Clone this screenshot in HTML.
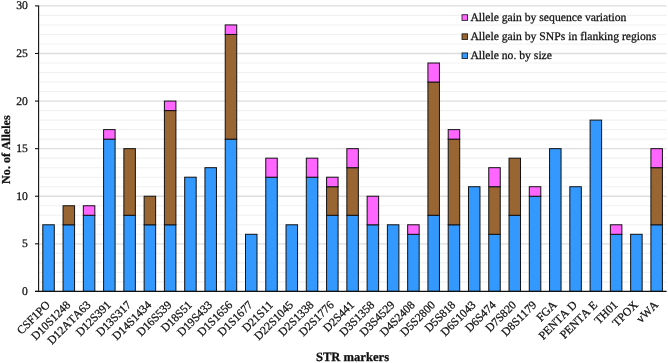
<!DOCTYPE html>
<html><head><meta charset="utf-8"><title>STR markers</title>
<style>html,body{margin:0;padding:0;background:#fff}svg{display:block;will-change:transform}text{font-kerning:none;text-rendering:geometricPrecision;stroke:#111;stroke-width:0.26px}</style></head>
<body>
<svg width="668" height="363" viewBox="0 0 668 363" font-family='"Liberation Serif", "DejaVu Serif", serif'>
<rect width="668" height="363" fill="#fff"/>
<line x1="38.6" x2="666.6" y1="281.88" y2="281.88" stroke="#f1f1f1" stroke-width="1.1"/>
<line x1="38.6" x2="666.6" y1="272.37" y2="272.37" stroke="#f1f1f1" stroke-width="1.1"/>
<line x1="38.6" x2="666.6" y1="262.85" y2="262.85" stroke="#f1f1f1" stroke-width="1.1"/>
<line x1="38.6" x2="666.6" y1="253.33" y2="253.33" stroke="#f1f1f1" stroke-width="1.1"/>
<line x1="38.6" x2="666.6" y1="243.82" y2="243.82" stroke="#dedede" stroke-width="1.3"/>
<line x1="38.6" x2="666.6" y1="234.30" y2="234.30" stroke="#f1f1f1" stroke-width="1.1"/>
<line x1="38.6" x2="666.6" y1="224.78" y2="224.78" stroke="#f1f1f1" stroke-width="1.1"/>
<line x1="38.6" x2="666.6" y1="215.27" y2="215.27" stroke="#f1f1f1" stroke-width="1.1"/>
<line x1="38.6" x2="666.6" y1="205.75" y2="205.75" stroke="#f1f1f1" stroke-width="1.1"/>
<line x1="38.6" x2="666.6" y1="196.23" y2="196.23" stroke="#dedede" stroke-width="1.3"/>
<line x1="38.6" x2="666.6" y1="186.72" y2="186.72" stroke="#f1f1f1" stroke-width="1.1"/>
<line x1="38.6" x2="666.6" y1="177.20" y2="177.20" stroke="#f1f1f1" stroke-width="1.1"/>
<line x1="38.6" x2="666.6" y1="167.68" y2="167.68" stroke="#f1f1f1" stroke-width="1.1"/>
<line x1="38.6" x2="666.6" y1="158.17" y2="158.17" stroke="#f1f1f1" stroke-width="1.1"/>
<line x1="38.6" x2="666.6" y1="148.65" y2="148.65" stroke="#dedede" stroke-width="1.3"/>
<line x1="38.6" x2="666.6" y1="139.13" y2="139.13" stroke="#f1f1f1" stroke-width="1.1"/>
<line x1="38.6" x2="666.6" y1="129.62" y2="129.62" stroke="#f1f1f1" stroke-width="1.1"/>
<line x1="38.6" x2="666.6" y1="120.10" y2="120.10" stroke="#f1f1f1" stroke-width="1.1"/>
<line x1="38.6" x2="666.6" y1="110.58" y2="110.58" stroke="#f1f1f1" stroke-width="1.1"/>
<line x1="38.6" x2="666.6" y1="101.07" y2="101.07" stroke="#dedede" stroke-width="1.3"/>
<line x1="38.6" x2="666.6" y1="91.55" y2="91.55" stroke="#f1f1f1" stroke-width="1.1"/>
<line x1="38.6" x2="666.6" y1="82.03" y2="82.03" stroke="#f1f1f1" stroke-width="1.1"/>
<line x1="38.6" x2="666.6" y1="72.52" y2="72.52" stroke="#f1f1f1" stroke-width="1.1"/>
<line x1="38.6" x2="666.6" y1="63.00" y2="63.00" stroke="#f1f1f1" stroke-width="1.1"/>
<line x1="38.6" x2="666.6" y1="53.48" y2="53.48" stroke="#dedede" stroke-width="1.3"/>
<line x1="38.6" x2="666.6" y1="43.97" y2="43.97" stroke="#f1f1f1" stroke-width="1.1"/>
<line x1="38.6" x2="666.6" y1="34.45" y2="34.45" stroke="#f1f1f1" stroke-width="1.1"/>
<line x1="38.6" x2="666.6" y1="24.93" y2="24.93" stroke="#f1f1f1" stroke-width="1.1"/>
<line x1="38.6" x2="666.6" y1="15.42" y2="15.42" stroke="#f1f1f1" stroke-width="1.1"/>
<line x1="38.6" x2="666.6" y1="5.90" y2="5.90" stroke="#dedede" stroke-width="1.3"/>
<rect x="42.79" y="224.78" width="11.5" height="66.62" fill="#3399ff" stroke="#111" stroke-width="1.0"/>
<rect x="63.06" y="224.78" width="11.5" height="66.62" fill="#3399ff" stroke="#111" stroke-width="1.0"/>
<rect x="63.06" y="205.75" width="11.5" height="19.03" fill="#996633" stroke="#111" stroke-width="1.0"/>
<rect x="83.33" y="215.27" width="11.5" height="76.13" fill="#3399ff" stroke="#111" stroke-width="1.0"/>
<rect x="83.33" y="205.75" width="11.5" height="9.52" fill="#ff66ff" stroke="#111" stroke-width="1.0"/>
<rect x="103.60" y="139.13" width="11.5" height="152.27" fill="#3399ff" stroke="#111" stroke-width="1.0"/>
<rect x="103.60" y="129.62" width="11.5" height="9.52" fill="#ff66ff" stroke="#111" stroke-width="1.0"/>
<rect x="123.87" y="215.27" width="11.5" height="76.13" fill="#3399ff" stroke="#111" stroke-width="1.0"/>
<rect x="123.87" y="148.65" width="11.5" height="66.62" fill="#996633" stroke="#111" stroke-width="1.0"/>
<rect x="144.14" y="224.78" width="11.5" height="66.62" fill="#3399ff" stroke="#111" stroke-width="1.0"/>
<rect x="144.14" y="196.23" width="11.5" height="28.55" fill="#996633" stroke="#111" stroke-width="1.0"/>
<rect x="164.41" y="224.78" width="11.5" height="66.62" fill="#3399ff" stroke="#111" stroke-width="1.0"/>
<rect x="164.41" y="110.58" width="11.5" height="114.20" fill="#996633" stroke="#111" stroke-width="1.0"/>
<rect x="164.41" y="101.07" width="11.5" height="9.52" fill="#ff66ff" stroke="#111" stroke-width="1.0"/>
<rect x="184.68" y="177.20" width="11.5" height="114.20" fill="#3399ff" stroke="#111" stroke-width="1.0"/>
<rect x="204.95" y="167.68" width="11.5" height="123.72" fill="#3399ff" stroke="#111" stroke-width="1.0"/>
<rect x="225.22" y="139.13" width="11.5" height="152.27" fill="#3399ff" stroke="#111" stroke-width="1.0"/>
<rect x="225.22" y="34.45" width="11.5" height="104.68" fill="#996633" stroke="#111" stroke-width="1.0"/>
<rect x="225.22" y="24.93" width="11.5" height="9.52" fill="#ff66ff" stroke="#111" stroke-width="1.0"/>
<rect x="245.50" y="234.30" width="11.5" height="57.10" fill="#3399ff" stroke="#111" stroke-width="1.0"/>
<rect x="265.77" y="177.20" width="11.5" height="114.20" fill="#3399ff" stroke="#111" stroke-width="1.0"/>
<rect x="265.77" y="158.17" width="11.5" height="19.03" fill="#ff66ff" stroke="#111" stroke-width="1.0"/>
<rect x="286.04" y="224.78" width="11.5" height="66.62" fill="#3399ff" stroke="#111" stroke-width="1.0"/>
<rect x="306.31" y="177.20" width="11.5" height="114.20" fill="#3399ff" stroke="#111" stroke-width="1.0"/>
<rect x="306.31" y="158.17" width="11.5" height="19.03" fill="#ff66ff" stroke="#111" stroke-width="1.0"/>
<rect x="326.58" y="215.27" width="11.5" height="76.13" fill="#3399ff" stroke="#111" stroke-width="1.0"/>
<rect x="326.58" y="186.72" width="11.5" height="28.55" fill="#996633" stroke="#111" stroke-width="1.0"/>
<rect x="326.58" y="177.20" width="11.5" height="9.52" fill="#ff66ff" stroke="#111" stroke-width="1.0"/>
<rect x="346.85" y="215.27" width="11.5" height="76.13" fill="#3399ff" stroke="#111" stroke-width="1.0"/>
<rect x="346.85" y="167.68" width="11.5" height="47.58" fill="#996633" stroke="#111" stroke-width="1.0"/>
<rect x="346.85" y="148.65" width="11.5" height="19.03" fill="#ff66ff" stroke="#111" stroke-width="1.0"/>
<rect x="367.12" y="224.78" width="11.5" height="66.62" fill="#3399ff" stroke="#111" stroke-width="1.0"/>
<rect x="367.12" y="196.23" width="11.5" height="28.55" fill="#ff66ff" stroke="#111" stroke-width="1.0"/>
<rect x="387.39" y="224.78" width="11.5" height="66.62" fill="#3399ff" stroke="#111" stroke-width="1.0"/>
<rect x="407.66" y="234.30" width="11.5" height="57.10" fill="#3399ff" stroke="#111" stroke-width="1.0"/>
<rect x="407.66" y="224.78" width="11.5" height="9.52" fill="#ff66ff" stroke="#111" stroke-width="1.0"/>
<rect x="427.93" y="215.27" width="11.5" height="76.13" fill="#3399ff" stroke="#111" stroke-width="1.0"/>
<rect x="427.93" y="82.03" width="11.5" height="133.23" fill="#996633" stroke="#111" stroke-width="1.0"/>
<rect x="427.93" y="63.00" width="11.5" height="19.03" fill="#ff66ff" stroke="#111" stroke-width="1.0"/>
<rect x="448.20" y="224.78" width="11.5" height="66.62" fill="#3399ff" stroke="#111" stroke-width="1.0"/>
<rect x="448.20" y="139.13" width="11.5" height="85.65" fill="#996633" stroke="#111" stroke-width="1.0"/>
<rect x="448.20" y="129.62" width="11.5" height="9.52" fill="#ff66ff" stroke="#111" stroke-width="1.0"/>
<rect x="468.48" y="186.72" width="11.5" height="104.68" fill="#3399ff" stroke="#111" stroke-width="1.0"/>
<rect x="488.75" y="234.30" width="11.5" height="57.10" fill="#3399ff" stroke="#111" stroke-width="1.0"/>
<rect x="488.75" y="186.72" width="11.5" height="47.58" fill="#996633" stroke="#111" stroke-width="1.0"/>
<rect x="488.75" y="167.68" width="11.5" height="19.03" fill="#ff66ff" stroke="#111" stroke-width="1.0"/>
<rect x="509.02" y="215.27" width="11.5" height="76.13" fill="#3399ff" stroke="#111" stroke-width="1.0"/>
<rect x="509.02" y="158.17" width="11.5" height="57.10" fill="#996633" stroke="#111" stroke-width="1.0"/>
<rect x="529.29" y="196.23" width="11.5" height="95.17" fill="#3399ff" stroke="#111" stroke-width="1.0"/>
<rect x="529.29" y="186.72" width="11.5" height="9.52" fill="#ff66ff" stroke="#111" stroke-width="1.0"/>
<rect x="549.56" y="148.65" width="11.5" height="142.75" fill="#3399ff" stroke="#111" stroke-width="1.0"/>
<rect x="569.83" y="186.72" width="11.5" height="104.68" fill="#3399ff" stroke="#111" stroke-width="1.0"/>
<rect x="590.10" y="120.10" width="11.5" height="171.30" fill="#3399ff" stroke="#111" stroke-width="1.0"/>
<rect x="610.37" y="234.30" width="11.5" height="57.10" fill="#3399ff" stroke="#111" stroke-width="1.0"/>
<rect x="610.37" y="224.78" width="11.5" height="9.52" fill="#ff66ff" stroke="#111" stroke-width="1.0"/>
<rect x="630.64" y="234.30" width="11.5" height="57.10" fill="#3399ff" stroke="#111" stroke-width="1.0"/>
<rect x="650.91" y="224.78" width="11.5" height="66.62" fill="#3399ff" stroke="#111" stroke-width="1.0"/>
<rect x="650.91" y="167.68" width="11.5" height="57.10" fill="#996633" stroke="#111" stroke-width="1.0"/>
<rect x="650.91" y="148.65" width="11.5" height="19.03" fill="#ff66ff" stroke="#111" stroke-width="1.0"/>
<line x1="38.6" x2="38.6" y1="5.4" y2="291.9" stroke="#111" stroke-width="1.1"/>
<line x1="35.0" x2="666.6" y1="291.4" y2="291.4" stroke="#111" stroke-width="1.1"/>
<line x1="35.0" x2="38.6" y1="291.40" y2="291.40" stroke="#111" stroke-width="1.1"/>
<text x="27.9" y="294.85" font-size="11.66" text-anchor="end" fill="#111">0</text>
<line x1="35.0" x2="38.6" y1="243.82" y2="243.82" stroke="#111" stroke-width="1.1"/>
<text x="27.9" y="247.27" font-size="11.66" text-anchor="end" fill="#111">5</text>
<line x1="35.0" x2="38.6" y1="196.23" y2="196.23" stroke="#111" stroke-width="1.1"/>
<text x="27.9" y="199.68" font-size="11.66" text-anchor="end" fill="#111">10</text>
<line x1="35.0" x2="38.6" y1="148.65" y2="148.65" stroke="#111" stroke-width="1.1"/>
<text x="27.9" y="152.10" font-size="11.66" text-anchor="end" fill="#111">15</text>
<line x1="35.0" x2="38.6" y1="101.07" y2="101.07" stroke="#111" stroke-width="1.1"/>
<text x="27.9" y="104.52" font-size="11.66" text-anchor="end" fill="#111">20</text>
<line x1="35.0" x2="38.6" y1="53.48" y2="53.48" stroke="#111" stroke-width="1.1"/>
<text x="27.9" y="56.93" font-size="11.66" text-anchor="end" fill="#111">25</text>
<line x1="35.0" x2="38.6" y1="5.90" y2="5.90" stroke="#111" stroke-width="1.1"/>
<text x="27.9" y="9.35" font-size="11.66" text-anchor="end" fill="#111">30</text>
<text transform="translate(50.74,305.60) rotate(-45)" font-size="11.66" text-anchor="end" fill="#111">CSF1PO</text>
<text transform="translate(71.01,305.60) rotate(-45)" font-size="11.66" text-anchor="end" fill="#111">D10S1248</text>
<text transform="translate(91.28,305.60) rotate(-45)" font-size="11.66" text-anchor="end" fill="#111">D12ATA63</text>
<text transform="translate(111.55,305.60) rotate(-45)" font-size="11.66" text-anchor="end" fill="#111">D12S391</text>
<text transform="translate(131.82,305.60) rotate(-45)" font-size="11.66" text-anchor="end" fill="#111">D13S317</text>
<text transform="translate(152.09,305.60) rotate(-45)" font-size="11.66" text-anchor="end" fill="#111">D14S1434</text>
<text transform="translate(172.36,305.60) rotate(-45)" font-size="11.66" text-anchor="end" fill="#111">D16S539</text>
<text transform="translate(192.63,305.60) rotate(-45)" font-size="11.66" text-anchor="end" fill="#111">D18S51</text>
<text transform="translate(212.90,305.60) rotate(-45)" font-size="11.66" text-anchor="end" fill="#111">D19S433</text>
<text transform="translate(233.17,305.60) rotate(-45)" font-size="11.66" text-anchor="end" fill="#111">D1S1656</text>
<text transform="translate(253.45,305.60) rotate(-45)" font-size="11.66" text-anchor="end" fill="#111">D1S1677</text>
<text transform="translate(273.72,305.60) rotate(-45)" font-size="11.66" text-anchor="end" fill="#111">D21S11</text>
<text transform="translate(293.99,305.60) rotate(-45)" font-size="11.66" text-anchor="end" fill="#111">D22S1045</text>
<text transform="translate(314.26,305.60) rotate(-45)" font-size="11.66" text-anchor="end" fill="#111">D2S1338</text>
<text transform="translate(334.53,305.60) rotate(-45)" font-size="11.66" text-anchor="end" fill="#111">D2S1776</text>
<text transform="translate(354.80,305.60) rotate(-45)" font-size="11.66" text-anchor="end" fill="#111">D2S441</text>
<text transform="translate(375.07,305.60) rotate(-45)" font-size="11.66" text-anchor="end" fill="#111">D3S1358</text>
<text transform="translate(395.34,305.60) rotate(-45)" font-size="11.66" text-anchor="end" fill="#111">D3S4529</text>
<text transform="translate(415.61,305.60) rotate(-45)" font-size="11.66" text-anchor="end" fill="#111">D4S2408</text>
<text transform="translate(435.88,305.60) rotate(-45)" font-size="11.66" text-anchor="end" fill="#111">D5S2800</text>
<text transform="translate(456.15,305.60) rotate(-45)" font-size="11.66" text-anchor="end" fill="#111">D5S818</text>
<text transform="translate(476.43,305.60) rotate(-45)" font-size="11.66" text-anchor="end" fill="#111">D6S1043</text>
<text transform="translate(496.70,305.60) rotate(-45)" font-size="11.66" text-anchor="end" fill="#111">D6S474</text>
<text transform="translate(516.97,305.60) rotate(-45)" font-size="11.66" text-anchor="end" fill="#111">D7S820</text>
<text transform="translate(537.24,305.60) rotate(-45)" font-size="11.66" text-anchor="end" fill="#111">D8S1179</text>
<text transform="translate(557.51,305.60) rotate(-45)" font-size="11.66" text-anchor="end" fill="#111">FGA</text>
<text transform="translate(577.78,305.60) rotate(-45)" font-size="11.66" text-anchor="end" fill="#111">PENTA D</text>
<text transform="translate(598.05,305.60) rotate(-45)" font-size="11.66" text-anchor="end" fill="#111">PENTA E</text>
<text transform="translate(618.32,305.60) rotate(-45)" font-size="11.66" text-anchor="end" fill="#111">TH01</text>
<text transform="translate(638.59,305.60) rotate(-45)" font-size="11.66" text-anchor="end" fill="#111">TPOX</text>
<text transform="translate(658.86,305.60) rotate(-45)" font-size="11.66" text-anchor="end" fill="#111">vWA</text>
<text x="352.5" y="361" font-size="12.6" font-weight="bold" text-anchor="middle" fill="#111">STR markers</text>
<text transform="translate(10.1,149.6) rotate(-90)" font-size="12.2" font-weight="bold" text-anchor="middle" fill="#111">No. of Alleles</text>
<rect x="462.0" y="14.75" width="5.6" height="5.6" fill="#ff66ff" stroke="#111" stroke-width="0.8"/>
<text x="470.4" y="21.05" font-size="11.66" fill="#111">Allele gain by sequence variation</text>
<rect x="462.0" y="33.85" width="5.6" height="5.6" fill="#996633" stroke="#111" stroke-width="0.8"/>
<text x="470.4" y="40.15" font-size="11.66" fill="#111">Allele gain by SNPs in flanking regions</text>
<rect x="462.0" y="52.95" width="5.6" height="5.6" fill="#3399ff" stroke="#111" stroke-width="0.8"/>
<text x="470.4" y="59.25" font-size="11.66" fill="#111">Allele no. by size</text>
</svg>
</body></html>
